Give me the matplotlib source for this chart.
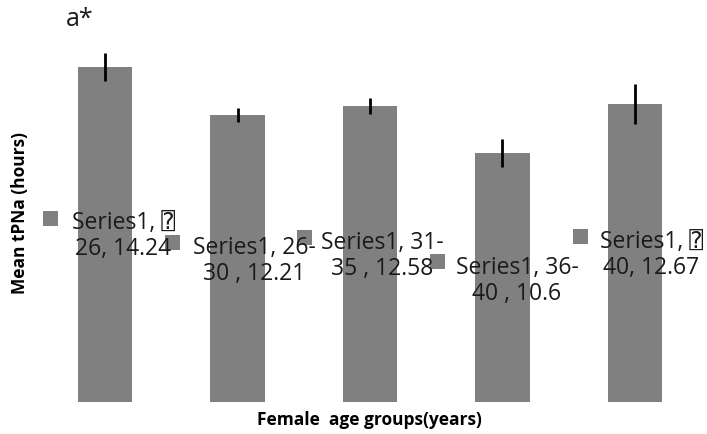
"""
Mean tPNa por grupo de edad femenino (barras con error, estilo Excel).
"""
import matplotlib

matplotlib.use("Agg")
import matplotlib.pyplot as plt
from matplotlib.patches import Rectangle

plt.rcParams["font.family"] = ["Open Sans", "DejaVu Sans", "DejaVu Sans Mono", "Noto Sans CJK SC"]

# datos
grupos = ["\u2370\n26", "26-\n30 ", "31-\n35 ", "36-\n40 ", "\u2370\n40"]
medias = [14.24, 12.21, 12.58, 10.6, 12.67]
errores = [0.58, 0.30, 0.33, 0.60, 0.87]
etiquetas = [
    "Series1, \u2370\n26, 14.24",
    "Series1, 26-\n30 , 12.21",
    "Series1, 31-\n35 , 12.58",
    "Series1, 36-\n40 , 10.6",
    "Series1, \u2370\n40, 12.67",
]

COLOR_BARRA = "#808080"
W, H = 707, 434

fig = plt.figure(figsize=(W / 100, H / 100), dpi=100)
# area de grafico en pixeles: izq 39, base 401.7, ancho 662, alto 376
ax = fig.add_axes([39 / W, (H - 401.7) / H, 662 / W, 376 / H])

x = range(len(medias))
ax.bar(x, medias, width=0.41, color=COLOR_BARRA)
ax.errorbar(x, medias, yerr=errores, fmt="none", ecolor="black",
            elinewidth=2, capsize=0)
ax.set_xlim(-0.5, len(medias) - 0.5)
ax.set_ylim(0, 16)
ax.axis("off")

# etiquetas de datos (centro del texto y del cuadradito, en pixeles)
pos_texto = [(123, 236), (254, 261), (382, 256), (517, 281), (651, 255)]
pos_marca = [(50.5, 218.5), (172.5, 242.5), (304.5, 237.5), (437.5, 261.5), (580.5, 236.5)]
for etiqueta, (tx, ty), (mx, my) in zip(etiquetas, pos_texto, pos_marca):
    fig.text(tx / W, 1 - ty / H, etiqueta, ha="center", va="center",
             fontsize=16.5, linespacing=1.12, color="#1a1a1a")
    fig.add_artist(Rectangle(((mx - 7.5) / W, 1 - (my + 7.5) / H), 15 / W, 15 / H,
                             transform=fig.transFigure, color=COLOR_BARRA, lw=0))

fig.text(80 / W, 1 - 20 / H, "a*", ha="center", va="center", fontsize=18, color="#1a1a1a")
fig.text(20 / W, 1 - 213 / H, "Mean tPNa (hours)", rotation=90, ha="center",
         va="center", fontsize=12.5, fontweight="bold")
fig.text(369 / W, 1 - 420 / H, "Female  age groups(years)", ha="center",
         va="center", fontsize=12.5, fontweight="bold")

fig.savefig("out.png", dpi=100)
